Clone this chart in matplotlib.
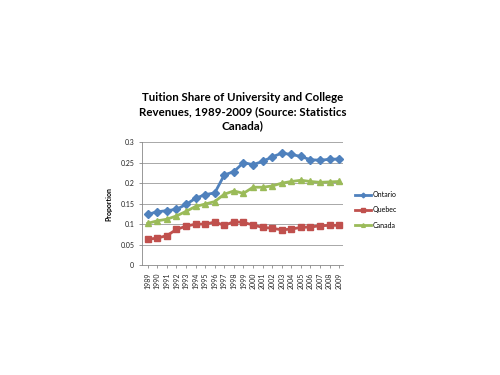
import matplotlib
matplotlib.use('Agg')
import matplotlib.pyplot as plt

# Data
years = [str(y) for y in range(1989, 2010)]
ontario = [0.124, 0.130, 0.133, 0.136, 0.148, 0.163, 0.172, 0.176, 0.220, 0.228, 0.250,
           0.245, 0.253, 0.264, 0.273, 0.270, 0.265, 0.257, 0.256, 0.258, 0.259]
quebec = [0.063, 0.066, 0.072, 0.087, 0.095, 0.100, 0.100, 0.105, 0.097, 0.106, 0.104,
          0.098, 0.092, 0.090, 0.086, 0.088, 0.092, 0.093, 0.096, 0.097, 0.097]
canada = [0.102, 0.108, 0.112, 0.120, 0.131, 0.143, 0.149, 0.155, 0.173, 0.181, 0.175,
          0.190, 0.190, 0.193, 0.200, 0.204, 0.207, 0.204, 0.202, 0.203, 0.204]

plt.rcParams['font.family'] = ['Lato', 'DejaVu Sans']

fig = plt.figure(figsize=(5, 3.75), dpi=100)
ax = fig.add_axes([0.284, 0.293, 0.402, 0.328])

x = range(len(years))
ax.plot(x, ontario, color='#4F81BD', marker='D', markersize=4, lw=2, label='Ontario')
ax.plot(x, quebec, color='#C0504D', marker='s', markersize=4, lw=2, label='Quebec')
ax.plot(x, canada, color='#9BBB59', marker='^', markersize=4.5, lw=2, label='Canada')

ax.set_xlim(-0.6, 20.4)
ax.set_ylim(0, 0.3)
ax.set_yticks([0, 0.05, 0.1, 0.15, 0.2, 0.25, 0.3])
ax.set_yticklabels(['0', '0.05', '0.1', '0.15', '0.2', '0.25', '0.3'])
ax.set_xticks(list(x))
ax.set_xticklabels(years, rotation=90)
ax.tick_params(labelsize=5, length=2, color='#888888', width=0.6, labelcolor='#222222')
ax.grid(axis='y', color='#9a9a9a', lw=0.6)
ax.set_axisbelow(True)
for s in ['top', 'right']:
    ax.spines[s].set_visible(False)
for s in ['left', 'bottom']:
    ax.spines[s].set_color('#888888')
    ax.spines[s].set_linewidth(0.6)

ax.set_ylabel('Proportion', fontsize=5, fontweight='bold', labelpad=6)
ax.set_title('Tuition Share of University and College\nRevenues, 1989-2009 (Source: Statistics\nCanada)',
             fontsize=8.3, fontweight='bold', linespacing=1.38, pad=9)

ax.legend(loc='center left', bbox_to_anchor=(1.03, 0.45), frameon=False, fontsize=5,
          handlelength=2.2, markerscale=0.6, labelspacing=1.2, handletextpad=0.3)

fig.savefig('out.png', dpi=100)
